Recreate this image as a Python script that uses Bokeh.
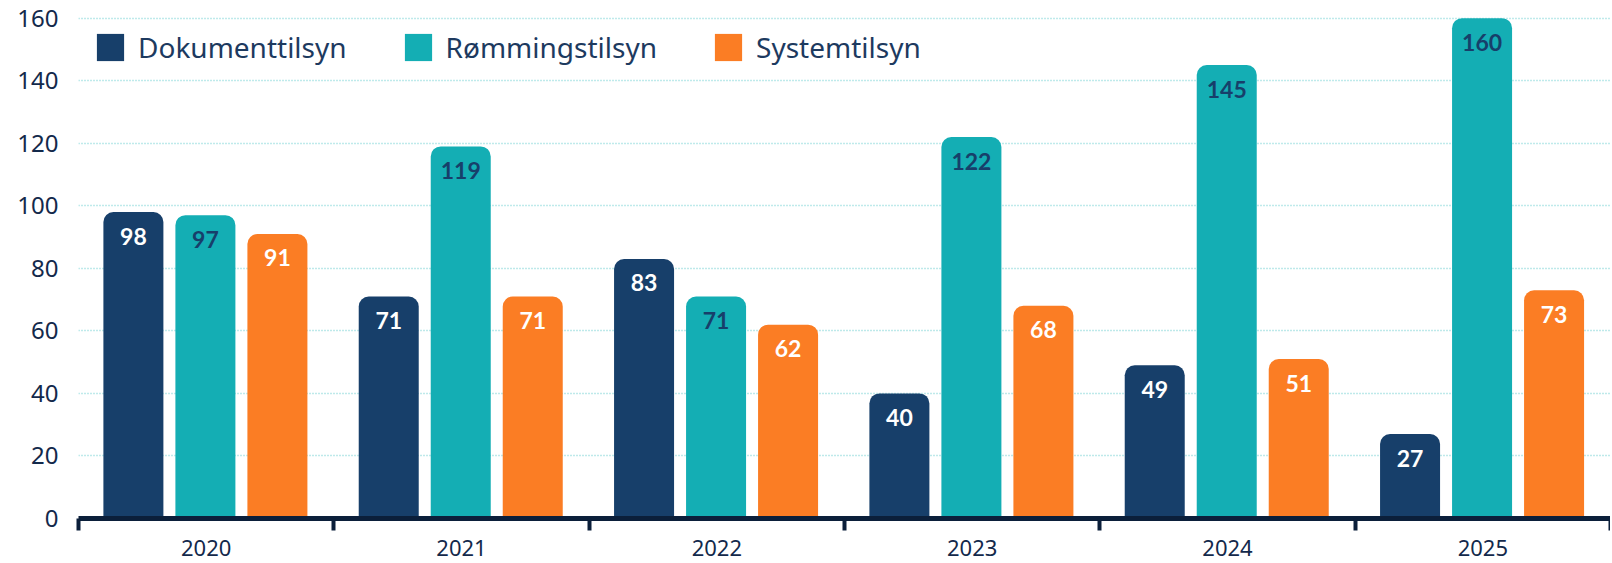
from bokeh.plotting import figure
from bokeh.models import ColumnDataSource, Range1d, FixedTicker, Legend, LegendItem
from bokeh.embed import file_html
from bokeh.resources import INLINE
from bokeh.core.properties import value

years = ["2020", "2021", "2022", "2023", "2024", "2025"]
series = ["Dokumenttilsyn", "Rømmingstilsyn", "Systemtilsyn"]
dokument = [98, 71, 83, 40, 49, 27]
romming = [97, 119, 71, 122, 145, 160]
system = [91, 71, 62, 68, 51, 73]
y_ticks = [0, 20, 40, 60, 80, 100, 120, 140, 160]

colors = ["#173f6a", "#14aeb4", "#fb7d24"]
label_colors = ["#ffffff", "#173f6a", "#ffffff"]
offsets = [-0.285, -0.003, 0.279]
bar_w = 0.235

p = figure(width=1610, height=562, output_backend="svg", toolbar_location=None,
           x_range=Range1d(0, len(years)), y_range=Range1d(0, 161.5),
           min_border_left=78, min_border_right=0, min_border_top=13, min_border_bottom=44)
p.outline_line_color = None
p.background_fill_color = "white"
p.border_fill_color = "white"

items = []
for k, vals in enumerate([dokument, romming, system]):
    xs = [i + 0.5 + offsets[k] for i in range(len(years))]
    src = ColumnDataSource(dict(x=xs, top=vals, lab=[str(v) for v in vals]))
    r = p.vbar(x="x", top="top", width=bar_w, bottom=0, source=src,
               fill_color=colors[k], line_color=None,
               border_radius=(10, 10, 0, 0))
    p.text(x="x", y="top", text="lab", source=src, y_offset=24,
           text_align="center", text_baseline="middle",
           text_font=value("Lato"), text_font_style="bold",
           text_font_size="23px", text_color=label_colors[k])
    items.append(LegendItem(label=series[k], renderers=[r]))

legend = Legend(items=items, location="top_left", orientation="horizontal",
                background_fill_alpha=0, border_line_color=None,
                glyph_width=34, glyph_height=34, label_height=34,
                label_standoff=11, spacing=54, margin=15, padding=14,
                label_text_font="Noto Sans", label_text_font_size="28px",
                label_text_color="#1d3a5f")
p.add_layout(legend)

# y axis
p.yaxis.ticker = FixedTicker(ticks=y_ticks)
p.yaxis.axis_line_color = None
p.yaxis.major_tick_line_color = None
p.yaxis.minor_tick_line_color = None
p.yaxis.major_label_text_font = "Noto Sans"
p.yaxis.major_label_text_font_size = "24px"
p.yaxis.major_label_text_color = "#13294b"
p.yaxis.major_label_standoff = 14

# x axis
p.xaxis.ticker = FixedTicker(ticks=[i + 0.5 for i in range(len(years))],
                             minor_ticks=list(range(len(years) + 1)))
p.xaxis.major_label_overrides = {i + 0.5: y for i, y in enumerate(years)}
p.xaxis.axis_line_color = "#0b1f3a"
p.xaxis.axis_line_width = 5
p.xaxis.major_tick_line_color = None
p.xaxis.minor_tick_line_color = "#0b1f3a"
p.xaxis.minor_tick_line_width = 4
p.xaxis.minor_tick_out = 12
p.xaxis.minor_tick_in = 0
p.xaxis.major_label_text_font = "Noto Sans"
p.xaxis.major_label_text_font_size = "22px"
p.xaxis.major_label_text_color = "#13294b"
p.xaxis.major_label_standoff = 9

p.xgrid.grid_line_color = None
p.ygrid.ticker = FixedTicker(ticks=y_ticks[1:])
p.ygrid.grid_line_color = "#7fd4d6"
p.ygrid.grid_line_dash = "1 2"
p.ygrid.grid_line_width = 1.5

open("out.html", "w").write(file_html(p, INLINE))
